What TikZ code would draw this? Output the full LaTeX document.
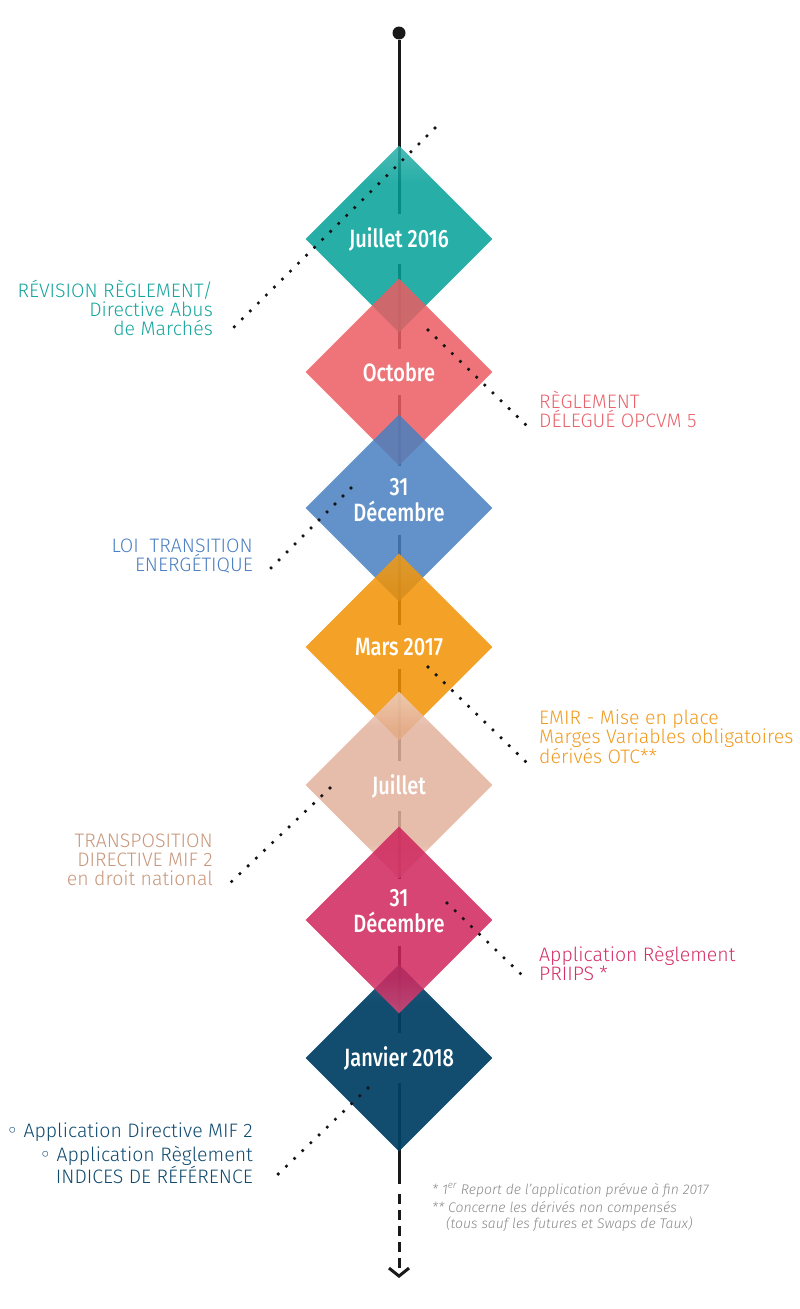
\documentclass[tikz,border=0pt]{standalone}
\usepackage{fontspec}
\setmainfont{Fira Sans Light}[ItalicFont={Fira Sans Light Italic}]
\newfontfamily\datefont{Fira Sans Medium}[FakeStretch=0.8]
\newfontfamily\bulletfont{DejaVu Sans}
\usetikzlibrary{shapes.geometric,arrows.meta}

% diamond fills (chosen for fill opacity .85 over white)
\definecolor{cTeal}{HTML}{01A098}
\definecolor{cTealL}{HTML}{2DB0A9}
\definecolor{cCoral}{HTML}{EB5C61}
\definecolor{cBlue}{HTML}{477FBF}
\definecolor{cOrange}{HTML}{F19001}
\definecolor{cOrangeL}{HTML}{F39C15}
\definecolor{cBeige}{HTML}{E2B09C}
\definecolor{cBeigeL}{HTML}{EDCFC3}
\definecolor{cPink}{HTML}{CF245C}
\definecolor{cPinkL}{HTML}{D84978}
\definecolor{cNavy}{HTML}{004065}
\definecolor{cNavyL}{HTML}{18587C}
% label texts
\definecolor{tTeal}{HTML}{16A59D}
\definecolor{tCoral}{HTML}{E9636B}
\definecolor{tBlue}{HTML}{4C80C2}
\definecolor{tOrange}{HTML}{F09A1E}
\definecolor{tBeige}{HTML}{C8977C}
\definecolor{tPink}{HTML}{D42F68}
\definecolor{tNavy}{HTML}{0F4A6F}
\definecolor{tGrey}{HTML}{8A8A8A}

\colorlet{dtop}{white}
\colorlet{dmid}{white}
\colorlet{dbot}{white}
\pgfdeclareverticalshading[dtop,dmid,dbot]{dfade}{100bp}{color(0bp)=(dbot); color(25bp)=(dbot); color(35bp)=(dmid); color(65bp)=(dmid); color(75bp)=(dtop); color(100bp)=(dtop)}

\pgfdeclarelayer{background}
\pgfsetlayers{background,main}

\tikzset{
  dcolors/.code n args={3}{\colorlet{dtop}{#1}\colorlet{dmid}{#2}\colorlet{dbot}{#3}},
  datebox/.style n args={3}{diamond, minimum width=187pt, minimum height=187pt, inner sep=0pt,
    dcolors={#1}{#2}{#3}, shade, shading=dfade, fill opacity=0.85},
  datelab/.style={text=white, font=\datefont\fontsize{25}{26}\selectfont, align=center,
    inner xsep=0pt, inner ysep=13pt},
  lab/.style={font=\fontsize{19.5}{19}\selectfont, inner sep=0pt},
  leftlab/.style={lab, anchor=south east, align=right},
  rightlab/.style={lab, anchor=south west, align=left},
  note/.style={font=\itshape\fontsize{14}{16.5}\selectfont, text=tGrey, inner sep=0pt, align=left},
  leader/.style={draw=black!92, line width=3.6pt, line cap=round, dash pattern=on 0pt off 11.3pt},
  spine/.style={draw=black!90, line width=3pt},
}

\begin{document}
\begin{tikzpicture}[x=1pt, y=-1pt]
  \useasboundingbox (0,0) rectangle (800,1309);

  \node[circle, fill=black!90, minimum size=13pt, inner sep=0pt] (top) at (399,33) {};

  % diamonds
  \node[datebox={cTealL}{cTeal}{cTeal}] (d1) at (399,239) {};
  \node[datebox={cCoral}{cCoral}{cCoral}] (d2) at (399,372) {};
  \node[datebox={cBlue}{cBlue}{cBlue}] (d3) at (399,508) {};
  \node[datebox={cOrangeL}{cOrange}{cOrange}] (d4) at (399,647) {};
  \node[datebox={cBeigeL}{cBeige}{cBeigeL}] (d5) at (399,785) {};
  \node[datebox={cNavyL}{cNavy}{cNavy}, fill opacity=0.93] (d7) at (399,1058) {};
  \node[datebox={cPink}{cPink}{cPinkL}] (d6) at (399,920) {};

  % dates
  \node[datelab] (l1) at (399,239) {Juillet 2016};
  \node[datelab] (l2) at (399,372) {Octobre};
  \node[datelab] (l3) at (399,500) {31\\Décembre};
  \node[datelab] (l4) at (399,647) {Mars 2017};
  \node[datelab] (l5) at (399,786) {Juillet};
  \node[datelab] (l6) at (399,911) {31\\Décembre};
  \node[datelab] (l7) at (399,1058) {Janvier 2018};

  % events
  \node[leftlab, text=tTeal] (r1) at (213,336) {RÉVISION RÈGLEMENT/\\Directive Abus\\de Marchés};
  \node[rightlab, text=tCoral] (r2) at (539,428) {RÈGLEMENT\\DÉLEGUÉ OPCVM 5};
  \node[leftlab, text=tBlue] (r3) at (253,574) {LOI~~TRANSITION\\ENERGÉTIQUE};
  \node[rightlab, text=tOrange] (r4) at (539,764) {EMIR - Mise en place\\Marges Variables obligatoires\\dérivés OTC**};
  \node[leftlab, text=tBeige] (r5) at (213,886) {TRANSPOSITION\\DIRECTIVE MIF 2\\en droit national};
  \node[rightlab, text=tPink] (r6) at (539,981) {Application Règlement\\PRIIPS *};
  \node[leftlab, text=tNavy] (r7) at (253,1184) {{\bulletfont ◦} Application Directive MIF 2\\[4pt]{\bulletfont ◦} Application Règlement\\INDICES DE RÉFÉRENCE};

  \coordinate (s1) at (435,128);
  \coordinate (s2) at (428,330);
  \coordinate (s3) at (351,488);
  \coordinate (s4) at (428,667);
  \coordinate (s5) at (330,788);
  \coordinate (s6) at (447,903);
  \coordinate (s7) at (368,1088);
  \draw[leader] (s1) -- ([xshift=15pt,yshift=3pt]r1.south east);
  \draw[leader] (s2) -- ([xshift=-13pt,yshift=3pt]r2.south west);
  \draw[leader] (s3) -- ([xshift=14pt,yshift=2pt]r3.south east);
  \draw[leader] (s4) -- ([xshift=-13pt,yshift=2pt]r4.south west);
  \draw[leader] (s5) -- ([xshift=16pt,yshift=2pt]r5.south east);
  \draw[leader] (s6) -- ([xshift=-14pt,yshift=3pt]r6.south west);
  \draw[leader] (s7) -- ([xshift=19pt,yshift=4pt]r7.south east);

  % notes
  \node[note, anchor=base west] (n1) at (432,1194) {* 1\textsuperscript{er} Report de l’application prévue à fin 2017};
  \node[note, anchor=north west] (n2) at (432,1201) {** Concerne les dérivés non compensés\\\hspace*{14pt}(tous sauf les futures et Swaps de Taux)};

  % end of the line
  \coordinate (e1) at (399,1184);
  \coordinate (e2) at (399,1194);
  \coordinate (tip) at (399,1278);
  \draw[spine] (d7.south) -- (e1);
  \draw[spine, dash pattern=on 10pt off 6pt, -{Straight Barb[length=8pt,width=20pt]}] (e2) -- (tip);

  \begin{pgfonlayer}{background}
    \draw[spine] (top) -- (d1.north);
    \draw[spine] (d1.north) -- (l1.north) (l1.south) -- (d1.south);
    \draw[spine] (d2.north) -- (l2.north) (l2.south) -- (d2.south);
    \draw[spine] (d3.north) -- (l3.north) (l3.south) -- (d3.south);
    \draw[spine] (d4.north) -- (l4.north) (l4.south) -- (d4.south);
    \draw[spine] (d5.north) -- (l5.north) (l5.south) -- (d5.south);
    \draw[spine] (d6.north) -- (l6.north) (l6.south) -- (d6.south);
    \draw[spine] (d7.north) -- (l7.north) (l7.south) -- (d7.south);
  \end{pgfonlayer}
\end{tikzpicture}
\end{document}
